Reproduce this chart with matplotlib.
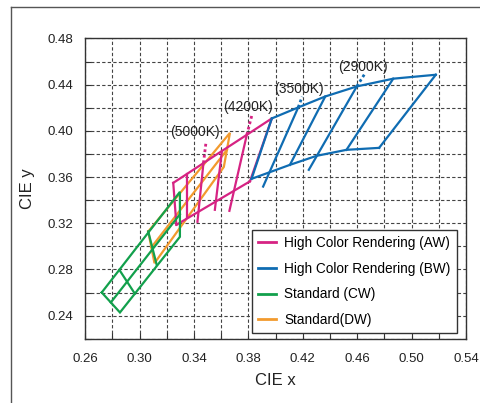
import matplotlib
matplotlib.use("Agg")
import matplotlib.pyplot as plt
from matplotlib.lines import Line2D
from matplotlib.ticker import MultipleLocator, FixedLocator, FormatStrFormatter

plt.rcParams['font.family'] = ['Liberation Sans', 'DejaVu Sans']

# chromaticity ranks, (CIE x, CIE y)
# High Color Rendering (AW)
aw_top = [(0.3247, 0.3550), (0.3345, 0.3625), (0.3469, 0.3721),
          (0.3605, 0.3826), (0.3788, 0.3966), (0.3972, 0.4108)]
aw_bottom = [(0.3270, 0.3187), (0.3811, 0.3563)]
aw_lines = [
    [(0.3247, 0.3550), (0.3270, 0.3187)],
    [(0.3345, 0.3625), (0.3345, 0.3256)],
    [(0.3469, 0.3721), (0.3425, 0.3213)],
    [(0.3605, 0.3826), (0.3553, 0.3317)],
    [(0.3788, 0.3966), (0.3660, 0.3308)],
    [(0.3972, 0.4108), (0.3811, 0.3563)],
]

# High Color Rendering (BW)
bw_top = [(0.3972, 0.4108), (0.4166, 0.4203), (0.4365, 0.4298),
          (0.4597, 0.4385), (0.4865, 0.4452), (0.5178, 0.4486)]
bw_bottom = [(0.3823, 0.3585), (0.4105, 0.3706), (0.4301, 0.3784),
             (0.4521, 0.3836), (0.4761, 0.3853)]
bw_lines = [
    [(0.3972, 0.4108), (0.3823, 0.3585)],
    [(0.4166, 0.4203), (0.3908, 0.3518)],
    [(0.4365, 0.4298), (0.4105, 0.3706)],
    [(0.4597, 0.4385), (0.4244, 0.3663)],
    [(0.4865, 0.4452), (0.4521, 0.3836)],
    [(0.5178, 0.4486), (0.4761, 0.3853)],
]

# Standard (CW)
cw_outline = [(0.2721, 0.2601), (0.3296, 0.3472), (0.3296, 0.3083),
              (0.2855, 0.2428), (0.2721, 0.2601)]
cw_lines = [
    [(0.2788, 0.2515), (0.3296, 0.3278)],
    [(0.2850, 0.2798), (0.2965, 0.2590)],
    [(0.3063, 0.3129), (0.3125, 0.2841)],
]

# Standard (DW)
dw_outline = [(0.3063, 0.3129), (0.3664, 0.3983), (0.3619, 0.3688),
              (0.3109, 0.2855), (0.3063, 0.3129)]
dw_lines = [
    [(0.3086, 0.2992), (0.3642, 0.3836)],
]

# colour temperature markers
cct_labels = ['(5000K)', '(4200K)', '(3500K)', '(2900K)']
cct_start = [(0.3469, 0.3721), (0.3788, 0.3966), (0.4166, 0.4203), (0.4597, 0.4385)]
cct_end = [(0.3488, 0.3903), (0.3827, 0.4143), (0.4195, 0.4296), (0.4658, 0.4499)]
cct_text = [(0.3409, 0.3987), (0.3796, 0.4203), (0.4171, 0.4363), (0.4645, 0.4549)]

x_ticks = [0.26, 0.30, 0.34, 0.38, 0.42, 0.46, 0.50, 0.54]
y_ticks = [0.24, 0.28, 0.32, 0.36, 0.40, 0.44, 0.48]

MAGENTA = '#d62383'
BLUE = '#0f6cb2'
GREEN = '#12a04c'
ORANGE = '#f29a2e'
LW = 1.6


def draw(ax, polylines, color, z):
    for pts in polylines:
        xs = [p[0] for p in pts]
        ys = [p[1] for p in pts]
        ax.plot(xs, ys, color=color, lw=LW, zorder=z, solid_joinstyle='miter')


fig = plt.figure(figsize=(4.81, 4.03), dpi=100)
ax = fig.add_axes([0.1773, 0.1593, 0.7915, 0.7452])

draw(ax, [dw_outline] + dw_lines, ORANGE, 3)
draw(ax, [aw_top, aw_bottom] + aw_lines, MAGENTA, 4)
draw(ax, [cw_outline] + cw_lines, GREEN, 5)
draw(ax, [bw_top, bw_bottom] + bw_lines, BLUE, 6)

for i, lab in enumerate(cct_labels):
    col = MAGENTA if i < 2 else BLUE
    ax.plot([cct_start[i][0], cct_end[i][0]], [cct_start[i][1], cct_end[i][1]],
            color=col, lw=2, ls=(0, (1, 1)), zorder=4)
    ax.text(cct_text[i][0], cct_text[i][1], lab, fontsize=10, ha='center',
            va='center', color='#222222', zorder=7)

ax.set_xlim(0.26, 0.54)
ax.set_ylim(0.22, 0.48)
ax.xaxis.set_major_locator(FixedLocator(x_ticks))
ax.xaxis.set_minor_locator(MultipleLocator(0.02))
ax.yaxis.set_major_locator(FixedLocator(y_ticks))
ax.yaxis.set_minor_locator(MultipleLocator(0.02))
ax.xaxis.set_major_formatter(FormatStrFormatter('%.2f'))
ax.yaxis.set_major_formatter(FormatStrFormatter('%.2f'))
ax.tick_params(which='both', direction='in', length=4, width=0.8, color='#333333',
               labelsize=9.5, labelcolor='#222222')
ax.tick_params(axis='x', pad=10)
ax.tick_params(axis='y', pad=9)
ax.grid(True, which='both', color='#444444', ls=(0, (3, 2)), lw=0.8)
ax.set_axisbelow(True)
for s in ax.spines.values():
    s.set_color('#333333')
    s.set_linewidth(1.0)

ax.set_xlabel('CIE x', fontsize=12, labelpad=6, color='#222222')
ax.set_ylabel('CIE y', fontsize=12, labelpad=9, color='#222222')

handles = [Line2D([], [], color=c, lw=2) for c in (MAGENTA, BLUE, GREEN, ORANGE)]
names = ['High Color Rendering (AW)', 'High Color Rendering (BW)',
         'Standard (CW)', 'Standard(DW)']
leg = ax.legend(handles, names, loc='upper left', bbox_to_anchor=(0.437, 0.362),
                fontsize=9.8, handlelength=1.35, handletextpad=0.6, labelspacing=0.85,
                borderpad=0.45, borderaxespad=0, fancybox=False, framealpha=1,
                edgecolor='#333333')
leg.get_frame().set_linewidth(1.0)
leg.set_zorder(10)

# outer frame of the figure panel
fig.add_artist(Line2D([0.0229, 0.0229], [0.0, 0.9826], color='#555555', lw=1,
                      transform=fig.transFigure))
fig.add_artist(Line2D([0.0229, 1.0], [0.9826, 0.9826], color='#555555', lw=1,
                      transform=fig.transFigure))

fig.savefig('out.png', dpi=100)
